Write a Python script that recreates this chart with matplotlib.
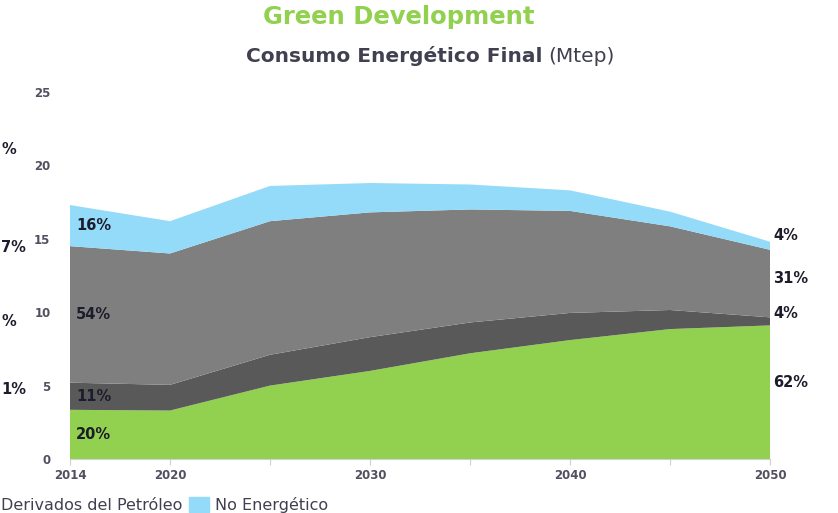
import matplotlib
matplotlib.use("Agg")
import matplotlib.pyplot as plt
from matplotlib.patches import Rectangle

years = ["2014", "2020", "2025", "2030", "2035", "2040", "2045", "2050"]
year_labels = ["2014", "2020", "", "2030", "", "2040", "", "2050"]

# Mtep per layer, bottom to top
renovables = [3.35, 3.3, 5.0, 6.0, 7.2, 8.1, 8.85, 9.1]
layer2 = [1.85, 1.75, 2.1, 2.3, 2.1, 1.85, 1.3, 0.55]
derivados = [9.3, 8.95, 9.1, 8.5, 7.7, 6.95, 5.7, 4.6]
no_energetico = [2.8, 2.2, 2.4, 2.0, 1.7, 1.4, 1.0, 0.55]

share_2014 = ["20%", "11%", "54%", "16%"]
share_2050 = ["62%", "4%", "31%", "4%"]

colors = ["#92d050", "#595959", "#7f7f7f", "#93dbf8"]
txt = "#1c1c2c"

fig = plt.figure(figsize=(8.38, 5.13), dpi=100)
ax = fig.add_axes([70 / 838, 54 / 513, 700 / 838, 367 / 513])

x = list(range(len(years)))
ax.stackplot(x, renovables, layer2, derivados, no_energetico, colors=colors, linewidth=0)

ax.set_xlim(0, len(years) - 1)
ax.set_ylim(0, 25)
ax.set_yticks([0, 5, 10, 15, 20, 25])
ax.set_xticks(x)
ax.set_xticklabels(year_labels)
for s in ["top", "right", "left"]:
    ax.spines[s].set_visible(False)
ax.spines["bottom"].set_color("#d0d0d0")
ax.tick_params(axis="y", length=0, pad=14, labelsize=8.5, labelcolor="#505060")
ax.tick_params(axis="x", length=4, color="#d0d0d0", pad=3, labelsize=8.5, labelcolor="#505060")
for lab in ax.get_xticklabels() + ax.get_yticklabels():
    lab.set_fontweight("bold")

# percent labels at 2014, centred in each layer
layers = [renovables, layer2, derivados, no_energetico]
base = 0
for vals, s in zip(layers, share_2014):
    ax.text(0.06, base + vals[0] / 2, s, fontsize=10.5, fontweight="bold", color=txt,
            va="center", ha="left")
    base += vals[0]

# labels at 2050, right of the chart
right_y = [5.2, 9.9, 12.3, 15.2]
for yy, s in zip(right_y, share_2050):
    ax.text(7.03, yy, s, fontsize=10.5, fontweight="bold", color=txt, va="center", ha="left",
            clip_on=False)

fig.text(399 / 838, 1 - 17 / 513, "Green Development", fontsize=17.5, fontweight="bold",
         color="#92d050", ha="center", va="center")
fig.text(542 / 838, 1 - 56 / 513, "Consumo Energético Final", fontsize=14.5, fontweight="bold",
         color="#404050", ha="right", va="center")
fig.text(548 / 838, 1 - 56 / 513, "(Mtep)", fontsize=14.5, color="#404050", ha="left", va="center")

# labels of the neighbouring chart, seen at the left edge
for py, s in [(150, "%"), (248, "7%"), (322, "%"), (390, "1%")]:
    fig.text(1 / 838, 1 - py / 513, s, fontsize=10.5, fontweight="bold", color=txt,
             ha="left", va="center")

# legend strip
fig.text(1 / 838, 1 - 505 / 513, "Derivados del Petróleo", fontsize=11.5, color="#404050",
         ha="left", va="center")
fig.patches.append(Rectangle((189 / 838, 1 - 512 / 513), 20 / 838, 15 / 513,
                             transform=fig.transFigure, color=colors[3]))
fig.text(215 / 838, 1 - 505 / 513, "No Energético", fontsize=11.5, color="#404050",
         ha="left", va="center")

fig.savefig("out.png", dpi=100)
